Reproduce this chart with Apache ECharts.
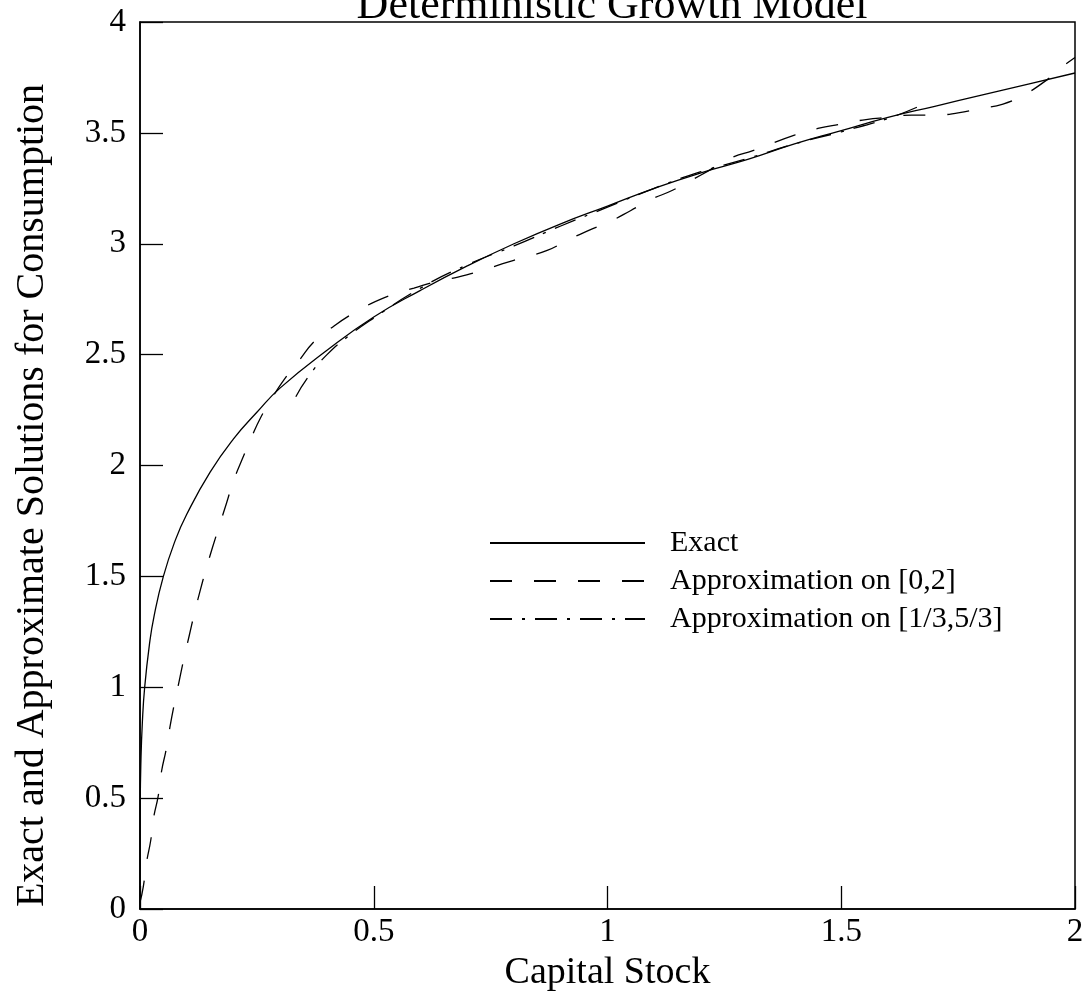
<!DOCTYPE html>
<html>
<head>
<meta charset="utf-8">
<script src="https://cdn.jsdelivr.net/npm/echarts@6/dist/echarts.min.js"></script>
<style>html,body{margin:0;padding:0;background:#fff}#c{width:1089px;height:992px}</style>
</head>
<body>
<div id="c"></div>
<script>
const titleText = 'Deterministic Growth Model';
const xName = 'Capital Stock';
const yName = 'Exact and Approximate Solutions for Consumption';
const seriesNames = ['Exact', 'Approximation on [0,2]', 'Approximation on [1/3,5/3]'];

// Exact solution
const exactK = [0, 0.0005, 0.002, 0.005, 0.01, 0.02, 0.03, 0.05, 0.075, 0.1, 0.15, 0.2, 0.25, 0.3, 0.4, 0.5, 0.6, 0.7, 0.8, 0.9, 1.0, 1.1, 1.2, 1.3, 1.4, 1.5, 1.6, 1.7, 1.8, 1.9, 2.0];
const exactC = [0, 0.47, 0.67, 0.84, 1.00, 1.19, 1.32, 1.50, 1.66, 1.78, 1.97, 2.12, 2.24, 2.35, 2.52, 2.67, 2.79, 2.90, 3.00, 3.09, 3.17, 3.25, 3.32, 3.38, 3.45, 3.51, 3.57, 3.62, 3.67, 3.72, 3.77];

// Approximation on [0,2]
const approxAK = [0, 0.007, 0.014, 0.023, 0.029, 0.039, 0.046, 0.056, 0.064, 0.073, 0.083, 0.094, 0.105, 0.116, 0.128, 0.141, 0.155, 0.170, 0.185, 0.200, 0.219, 0.237, 0.259, 0.284, 0.309, 0.339, 0.373, 0.409, 0.451, 0.494, 0.539, 0.586, 0.635, 0.680, 0.732, 0.776, 0.823, 0.871, 0.918, 0.960, 1.005, 1.050, 1.093, 1.138, 1.200, 1.268, 1.311, 1.400, 1.450, 1.500, 1.553, 1.602, 1.651, 1.698, 1.750, 1.797, 1.846, 1.889, 1.934, 1.968, 2.0];
const approxAC = [0.03, 0.10, 0.21, 0.31, 0.41, 0.51, 0.62, 0.72, 0.82, 0.92, 1.02, 1.13, 1.23, 1.33, 1.43, 1.53, 1.63, 1.73, 1.83, 1.93, 2.03, 2.12, 2.22, 2.31, 2.39, 2.47, 2.56, 2.62, 2.68, 2.73, 2.77, 2.80, 2.83, 2.85, 2.88, 2.91, 2.94, 2.97, 3.02, 3.06, 3.10, 3.15, 3.20, 3.24, 3.31, 3.39, 3.42, 3.49, 3.52, 3.54, 3.56, 3.57, 3.58, 3.58, 3.59, 3.61, 3.63, 3.67, 3.73, 3.79, 3.84];

// Approximation on [1/3,5/3]
const approxBK = [0.3333, 0.36, 0.40, 0.45, 0.50, 0.60, 0.70, 0.80, 0.90, 1.00, 1.10, 1.20, 1.30, 1.40, 1.50, 1.60, 1.6667];
const approxBC = [2.31, 2.40, 2.50, 2.59, 2.665, 2.80, 2.905, 2.99, 3.08, 3.165, 3.25, 3.325, 3.385, 3.45, 3.505, 3.565, 3.62];

const xTicks = {min: 0, max: 2, interval: 0.5};
const yTicks = {min: 0, max: 4, interval: 0.5};

const pairs = (ks, cs) => ks.map((k, i) => [k, cs[i]]);
const FONT = '"Liberation Serif", "DejaVu Serif", serif';

const chart = echarts.init(document.getElementById('c'), null, {renderer: 'canvas'});
chart.setOption({
  backgroundColor: '#fff',
  animation: false,
  title: {
    text: titleText,
    left: 607, textAlign: 'center', top: -21,
    textStyle: {fontFamily: FONT, fontSize: 44, fontWeight: 'normal', color: '#000'}
  },
  grid: {left: 140, right: 14, top: 22, bottom: 83, show: true, borderColor: '#000', borderWidth: 1.5,
         containLabel: false, outerBoundsMode: 'none'},
  legend: {
    orient: 'vertical', left: 484, top: 523,
    itemWidth: 155, itemHeight: 20, itemGap: 8,
    data: seriesNames,
    itemStyle: {opacity: 0},
    textStyle: {fontFamily: FONT, fontSize: 30, color: '#000', padding: [0, 0, 0, 20]}
  },
  xAxis: {
    type: 'value', min: xTicks.min, max: xTicks.max, interval: xTicks.interval,
    name: xName, nameLocation: 'middle', nameGap: 34,
    nameTextStyle: {fontFamily: FONT, fontSize: 38, color: '#000'},
    axisLine: {lineStyle: {color: '#000', width: 1.5}},
    axisTick: {inside: true, length: 23, lineStyle: {color: '#000', width: 1.3}},
    axisLabel: {fontFamily: FONT, fontSize: 33, color: '#000', margin: 7},
    splitLine: {show: false}
  },
  yAxis: {
    type: 'value', min: yTicks.min, max: yTicks.max, interval: yTicks.interval,
    name: yName, nameLocation: 'middle', nameGap: 88,
    nameTextStyle: {fontFamily: FONT, fontSize: 40, color: '#000', padding: [0, 60, 0, 0]},
    axisLine: {lineStyle: {color: '#000', width: 1.5}},
    axisTick: {inside: true, length: 23, lineStyle: {color: '#000', width: 1.3}},
    axisLabel: {fontFamily: FONT, fontSize: 33, color: '#000', margin: 14},
    splitLine: {show: false}
  },
  series: [
    {name: seriesNames[0], type: 'line', data: pairs(exactK, exactC), smooth: true, symbol: 'none',
     lineStyle: {color: '#000', width: 1.3, type: 'solid'}, itemStyle: {color: '#000'}},
    {name: seriesNames[1], type: 'line', data: pairs(approxAK, approxAC), smooth: true, symbol: 'none',
     lineStyle: {color: '#000', width: 1.3, type: [22, 22]}, itemStyle: {color: '#000'}},
    {name: seriesNames[2], type: 'line', data: pairs(approxBK, approxBC), smooth: true, symbol: 'none',
     lineStyle: {color: '#000', width: 1.3, type: [22, 10, 3, 10]}, itemStyle: {color: '#000'}}
  ]
});
</script>
</body>
</html>
